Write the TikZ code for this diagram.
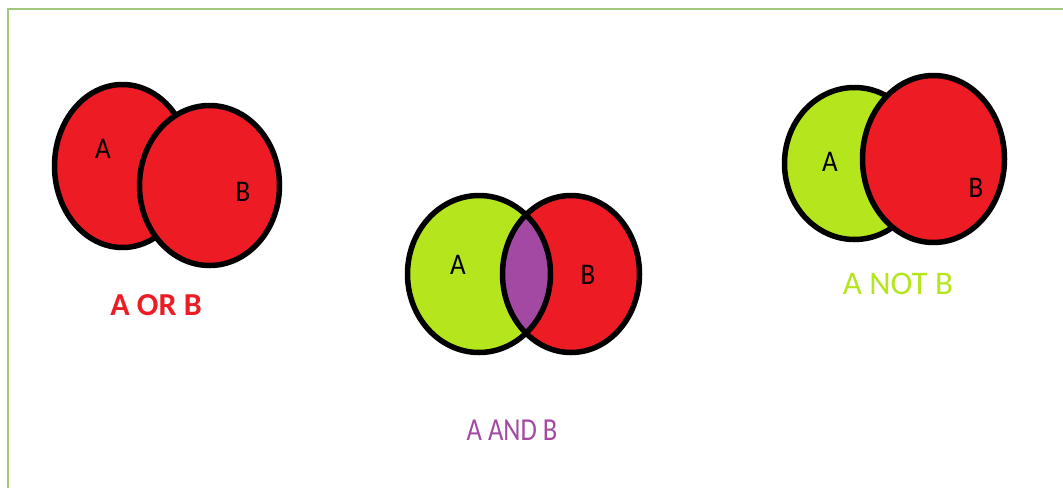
\documentclass[tikz,border=0pt]{standalone}
\usepackage{fontspec}
\setmainfont{Carlito}
\definecolor{pred}{RGB}{237,28,36}
\definecolor{plime}{RGB}{181,230,29}
\definecolor{ppurple}{RGB}{163,73,164}
\definecolor{frame}{RGB}{160,200,120}
\tikzset{
  setshape/.style={line width=5.5pt, draw=black},
  inlabel/.style={font=\fontsize{30}{30}\selectfont, text=black, inner sep=0pt, xscale=0.9},
  caption/.style={font=\fontsize{32}{32}\selectfont, inner sep=0pt},
}
\begin{document}
\begin{tikzpicture}[x=1pt,y=-1pt]
\useasboundingbox (0,0) rectangle (1063,488);
\fill[white] (0,0) rectangle (1063,488);
% frame
\draw[frame, line width=2pt] (8,488) -- (8,9) -- (1063,9);

% A OR B
\draw[setshape, fill=pred] (122.5,166) ellipse [x radius=68, y radius=81.5];
\draw[setshape, fill=pred] (209.5,185.5) ellipse [x radius=70, y radius=80];
\node[inlabel] (orA) at (103,149) {A};
\node[inlabel] (orB) at (243,192) {B};
\node[caption, text=pred, font=\fontsize{32}{32}\selectfont\bfseries] (orcap) at (156,305) {A OR B};

% A AND B
\fill[plime] (479,274) ellipse [x radius=71.5, y radius=78.5];
\fill[pred] (571,274) ellipse [x radius=68.5, y radius=78.5];
\begin{scope}
  \clip (479,274) ellipse [x radius=71.5, y radius=78.5];
  \fill[ppurple] (571,274) ellipse [x radius=68.5, y radius=78.5];
\end{scope}
\draw[setshape] (479,274) ellipse [x radius=71.5, y radius=78.5];
\draw[setshape] (571,274) ellipse [x radius=68.5, y radius=78.5];
\node[inlabel] (andA) at (458,265) {A};
\node[inlabel] (andB) at (588,275) {B};
\node[caption, text=ppurple, xscale=0.83] (andcap) at (512,430) {A AND B};

% A NOT B
\draw[setshape, fill=plime] (854.5,163.5) ellipse [x radius=70, y radius=76];
\draw[setshape, fill=pred] (933.5,159) ellipse [x radius=71, y radius=83.5];
\node[inlabel] (notA) at (830,162) {A};
\node[inlabel] (notB) at (976,188) {B};
\node[caption, text=plime, font=\fontsize{33}{33}\selectfont] (notcap) at (898,284) {A NOT B};
\end{tikzpicture}
\end{document}
